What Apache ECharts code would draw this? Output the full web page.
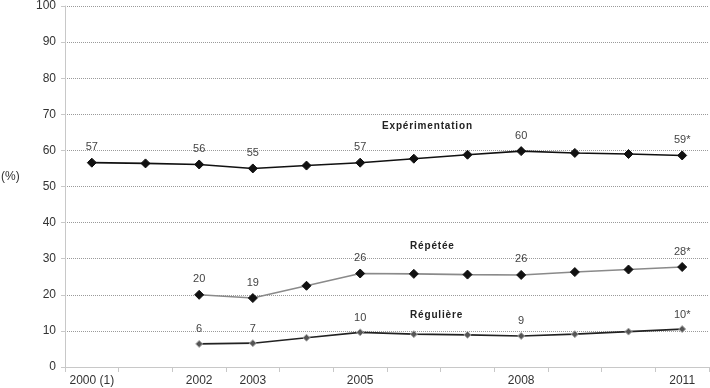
<!DOCTYPE html>
<html><head><meta charset="utf-8">
<script src="https://cdn.jsdelivr.net/npm/echarts@6/dist/echarts.min.js"></script>
<style>html,body{margin:0;padding:0;background:#fff}#c{width:710px;height:388px}</style>
</head><body><div id="c"></div>
<script>
var categories = ['2000 (1)', '', '2002', '2003', '', '2005', '', '', '2008', '', '', '2011'];
var experimentation = [56.6, 56.4, 56.1, 55.0, 55.8, 56.6, 57.7, 58.8, 59.8, 59.3, 59.0, 58.6];
var experimentationLabels = ['57', null, '56', '55', null, '57', null, null, '60', null, null, '59*'];
var repetee = [null, null, 20.0, 19.1, 22.5, 25.9, 25.8, 25.6, 25.5, 26.3, 27.0, 27.7];
var repeteeLabels = [null, null, '20', '19', null, '26', null, null, '26', null, null, '28*'];
var reguliere = [null, null, 6.4, 6.6, 8.1, 9.6, 9.1, 8.9, 8.6, 9.1, 9.8, 10.5];
var reguliereLabels = [null, null, '6', '7', null, '10', null, null, '9', null, null, '10*'];
var yTicks = [0, 10, 20, 30, 40, 50, 60, 70, 80, 90, 100];
var seriesNames = ['Expérimentation', 'Répétée', 'Régulière'];

var FONT = '"Liberation Sans", Arial, sans-serif';
function spaced(s) { return s.split('').join('\u200A'); }
function build(vals, lbls) {
  return vals.map(function (v, i) {
    return {
      value: v,
      label: { show: lbls[i] != null, formatter: lbls[i] == null ? '' : lbls[i] }
    };
  });
}
var labelStyle = { position: 'top', distance: 5, color: '#444', fontSize: 11, fontFamily: FONT };

var chart = echarts.init(document.getElementById('c'), null, { renderer: 'canvas' });
chart.setOption({
  animation: false,
  backgroundColor: '#fff',
  grid: { left: 65, right: 1, top: 6, bottom: 21, containLabel: false },
  xAxis: {
    type: 'category',
    data: categories,
    boundaryGap: true,
    axisLine: { show: true, lineStyle: { color: '#c8c8c8', width: 1 } },
    axisTick: { show: true, interval: 0, length: 5, lineStyle: { color: '#c8c8c8' } },
    axisLabel: { interval: 0, color: '#333', fontSize: 12, fontFamily: FONT, margin: 8 },
    splitLine: { show: false }
  },
  yAxis: {
    type: 'value',
    min: yTicks[0],
    max: yTicks[yTicks.length - 1],
    interval: 10,
    axisLine: { show: true, lineStyle: { color: '#c8c8c8', width: 1 } },
    axisTick: { show: true, length: 4, lineStyle: { color: '#c8c8c8' } },
    axisLabel: { color: '#333', fontSize: 12, fontFamily: FONT, margin: 9 },
    splitLine: { show: true, lineStyle: { color: '#9a9a9a', type: [1, 1], width: 1 } }
  },
  graphic: [
    { type: 'text', left: 1, top: 171, style: { text: '(%)', fill: '#333', font: '12px ' + FONT } },
    { type: 'text', left: 382, top: 121, style: { text: spaced(seriesNames[0]), fill: '#222', font: 'bold 10px ' + FONT } },
    { type: 'text', left: 410, top: 241, style: { text: spaced(seriesNames[1]), fill: '#222', font: 'bold 10px ' + FONT } },
    { type: 'text', left: 410, top: 310, style: { text: spaced(seriesNames[2]), fill: '#222', font: 'bold 10px ' + FONT } }
  ],
  series: [
    {
      name: seriesNames[0], type: 'line',
      data: build(experimentation, experimentationLabels),
      symbol: 'diamond', symbolSize: 9, showAllSymbol: true,
      lineStyle: { color: '#111', width: 1.6 },
      itemStyle: { color: '#111', borderColor: '#111', borderWidth: 1 },
      label: labelStyle
    },
    {
      name: seriesNames[1], type: 'line',
      data: build(repetee, repeteeLabels),
      symbol: 'diamond', symbolSize: 9, showAllSymbol: true,
      lineStyle: { color: '#8a8a8a', width: 1.6 },
      itemStyle: { color: '#111', borderColor: '#111', borderWidth: 1 },
      label: labelStyle
    },
    {
      name: seriesNames[2], type: 'line',
      data: build(reguliere, reguliereLabels),
      symbol: 'diamond', symbolSize: 7, showAllSymbol: true,
      lineStyle: { color: '#222', width: 1.6 },
      itemStyle: { color: '#555', borderColor: '#aaa', borderWidth: 1 },
      label: labelStyle
    }
  ]
});
</script></body></html>
